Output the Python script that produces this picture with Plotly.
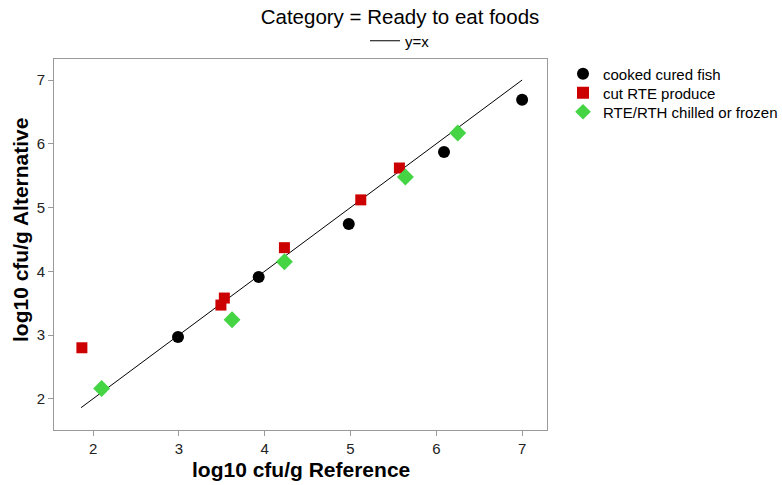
import plotly.graph_objects as go

# log10 cfu/g counts: reference method (x) vs alternative method (y)
fish_ref = [2.99, 3.93, 4.98, 6.09, 7.00]
fish_alt = [2.97, 3.91, 4.74, 5.87, 6.69]

produce_ref = [1.87, 3.49, 3.53, 4.23, 5.12, 5.57]
produce_alt = [2.80, 3.47, 3.58, 4.37, 5.12, 5.62]

chilled_ref = [2.10, 3.62, 4.23, 5.64, 6.25]
chilled_alt = [2.16, 3.24, 4.15, 5.48, 6.17]

line_ends = [1.86, 7.00]
ticks = [2, 3, 4, 5, 6, 7]

FONT = "Liberation Sans, Arial, sans-serif"
W, H = 782, 485

fig = go.Figure()

fig.add_trace(go.Scatter(
    x=line_ends, y=line_ends, mode="lines", name="y=x",
    line=dict(color="black", width=1), legend="legend",
))
fig.add_trace(go.Scatter(
    x=fish_ref, y=fish_alt, mode="markers", name="cooked cured fish",
    marker=dict(symbol="circle", size=12, color="black"), legend="legend2",
))
fig.add_trace(go.Scatter(
    x=produce_ref, y=produce_alt, mode="markers", name="cut RTE produce",
    marker=dict(symbol="square", size=11, color="#CC0000"), legend="legend3",
))
fig.add_trace(go.Scatter(
    x=chilled_ref, y=chilled_alt, mode="markers", name="RTE/RTH chilled or frozen",
    marker=dict(symbol="diamond", size=13, color="#44D444"), legend="legend4",
))

axis_common = dict(
    showgrid=False, zeroline=False, showline=True, mirror=True,
    linecolor="#9a9a9a", linewidth=1, ticks="outside", ticklen=5,
    tickcolor="#9a9a9a", tickvals=ticks,
    tickfont=dict(family=FONT, size=15, color="#222"),
)


def side_legend(y_px):
    # one legend entry per box, stacked down the right-hand side
    return dict(x=563 / W, xref="container", xanchor="left",
                y=1 - y_px / H, yref="container", yanchor="middle",
                font=dict(family=FONT, size=15, color="black"),
                bgcolor="rgba(0,0,0,0)", itemsizing="constant")


fig.update_layout(
    width=W, height=H,
    showlegend=True,
    margin=dict(l=54, r=235, t=59, b=55, autoexpand=False),
    plot_bgcolor="white", paper_bgcolor="white",
    font=dict(family=FONT, color="black"),
    title=dict(text="Category = Ready to eat foods", x=400 / W, xanchor="center",
               xref="container", y=1 - 17 / H, yanchor="middle", yref="container",
               font=dict(family=FONT, size=20.5, color="black")),
    xaxis=dict(range=[1.545, 7.29], **axis_common),
    yaxis=dict(range=[1.51, 7.33], **axis_common),
    legend=dict(orientation="h", x=400 / W, xref="container", xanchor="center",
                y=1 - 41 / H, yref="container", yanchor="middle",
                font=dict(family=FONT, size=15, color="black"),
                bgcolor="rgba(0,0,0,0)"),
    legend2=side_legend(74),
    legend3=side_legend(93),
    legend4=side_legend(112),
    annotations=[
        dict(text="<b>log10 cfu/g Reference</b>", xref="paper", yref="paper",
             x=0.5, y=-(469 - 430) / 371, xanchor="center", yanchor="middle",
             showarrow=False, font=dict(family=FONT, size=21, color="black")),
        dict(text="<b>log10 cfu/g Alternative</b>", xref="paper", yref="paper",
             x=-(54 - 20) / 493, y=(430 - 230) / 371, xanchor="center", yanchor="middle",
             textangle=-90, showarrow=False,
             font=dict(family=FONT, size=21, color="black")),
    ],
)

fig.write_html("out.html")
